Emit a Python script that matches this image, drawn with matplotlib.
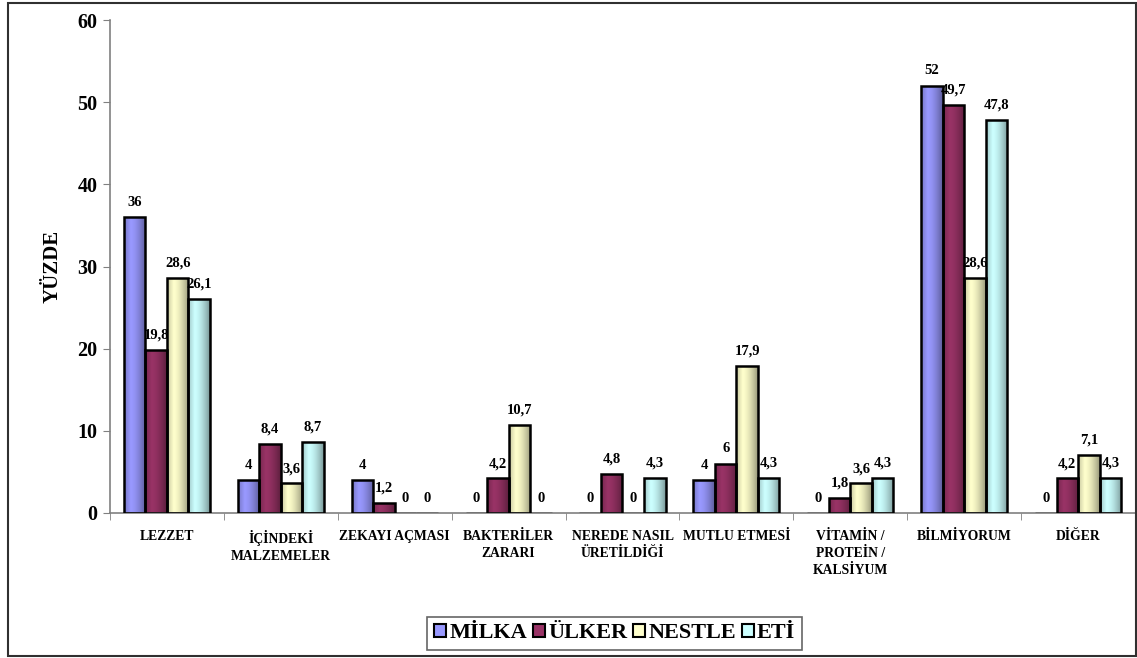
import numpy as np
import matplotlib
matplotlib.use("Agg")
import matplotlib.pyplot as plt
from matplotlib.patches import Rectangle, Patch
from matplotlib.colors import to_rgb

categories = [
    "LEZZET",
    "İÇİNDEKİ\nMALZEMELER",
    "ZEKAYI AÇMASI",
    "BAKTERİLER\nZARARI",
    "NEREDE NASIL\nÜRETİLDİĞİ",
    "MUTLU ETMESİ",
    "VİTAMİN /\nPROTEİN /\nKALSİYUM",
    "BİLMİYORUM",
    "DİĞER",
]
series_names = ["MİLKA", "ÜLKER", "NESTLE", "ETİ"]
milka = [36, 4, 4, 0, 0, 4, 0, 52, 0]
ulker = [19.8, 8.4, 1.2, 4.2, 4.8, 6, 1.8, 49.7, 4.2]
nestle = [28.6, 3.6, 0, 10.7, 0, 17.9, 3.6, 28.6, 7.1]
eti = [26.1, 8.7, 0, 0, 4.3, 4.3, 4.3, 47.8, 4.3]
colors = ["#9999FF", "#993366", "#FFFFCC", "#CCFFFF"]
y_ticks = [0, 10, 20, 30, 40, 50, 60]

plt.rcParams["font.family"] = ["Liberation Serif", "DejaVu Serif"]
plt.rcParams["font.weight"] = "bold"

fig = plt.figure(figsize=(11.37, 6.58), dpi=100)
ax = fig.add_axes([110 / 1137, 1 - 513 / 658, 1025 / 1137, 493 / 658])

# outer frame around the whole chart
fig.patches.append(Rectangle((8 / 1137, 1 - 656 / 658), 1128 / 1137, 653 / 658,
                             transform=fig.transFigure, fill=False,
                             edgecolor="#303030", linewidth=1.5))

x = np.arange(len(categories))
w = 0.189
offsets = [-1.5 * w, -0.5 * w, 0.5 * w, 1.5 * w]
data = [milka, ulker, nestle, eti]


def fmt(v):
    s = f"{v:g}"
    return s.replace(".", ",")


def shade(patch, color):
    # horizontal shading: lighter toward the left-middle, darker on the right edge
    base = np.array(to_rgb(color))
    t = np.linspace(0, 1, 64)
    f = np.where(t < 0.3, 0.78 + 0.22 * (t / 0.3), 1.0 - 0.4 * ((t - 0.3) / 0.7) ** 1.6)
    img = np.clip(base[None, :] * f[:, None], 0, 1)[None, :, :]
    bx, by = patch.get_x(), patch.get_y()
    bw, bh = patch.get_width(), patch.get_height()
    im = ax.imshow(img, extent=(bx, bx + bw, by, by + bh), aspect="auto",
                   interpolation="bilinear", zorder=2)
    im.set_clip_path(patch)


for vals, off, col in zip(data, offsets, colors):
    bars = ax.bar(x + off, vals, width=w, color=col, edgecolor="black",
                  linewidth=1.8, zorder=2)
    for b, v in zip(bars, vals):
        if v > 0:
            shade(b, col)
            b.set_facecolor("none")
            b.set_zorder(3)
        ax.annotate(fmt(v), (b.get_x() + b.get_width() / 2, v),
                    xytext=(0, 6), textcoords="offset points",
                    ha="center", va="bottom", fontsize=10.5, fontweight="bold",
                    zorder=4)

ax.set_xlim(-0.5, len(categories) - 0.5)
ax.set_ylim(0, 60)
ax.set_yticks(y_ticks)
ax.set_yticklabels([str(t) for t in y_ticks], fontsize=14.5, fontweight="bold")
ax.set_xticks(x)
ax.set_xticklabels(categories, fontsize=9.8, fontweight="bold", linespacing=1.4,
                   va="top")
ax.set_xticks(np.arange(len(categories) + 1) - 0.5, minor=True)
ax.tick_params(axis="x", which="major", length=0, pad=12)
ax.tick_params(axis="x", which="minor", length=5, color="#808080", direction="out")
ax.tick_params(axis="y", length=5, color="#808080", direction="out", pad=4)
for side in ["top", "right"]:
    ax.spines[side].set_visible(False)
for side in ["left", "bottom"]:
    ax.spines[side].set_color("#808080")
    ax.spines[side].set_linewidth(1.2)

ax.set_ylabel("YÜZDE", fontsize=15, fontweight="bold")
ax.yaxis.set_label_coords(-0.046, 0.5)

handles = [Patch(facecolor=c, edgecolor="black", linewidth=1.5) for c in colors]
leg = fig.legend(handles, series_names, loc="center", ncol=4,
                 bbox_to_anchor=(614.5 / 1137, 1 - 633.5 / 658),
                 prop={"size": 16, "weight": "bold"}, frameon=True, fancybox=False,
                 handlelength=0.55, handleheight=0.55, handletextpad=0.15,
                 columnspacing=0.25, borderpad=0.3, borderaxespad=0)
leg.get_frame().set_edgecolor("#404040")
leg.get_frame().set_linewidth(1.2)

fig.savefig("out.png", dpi=100)
